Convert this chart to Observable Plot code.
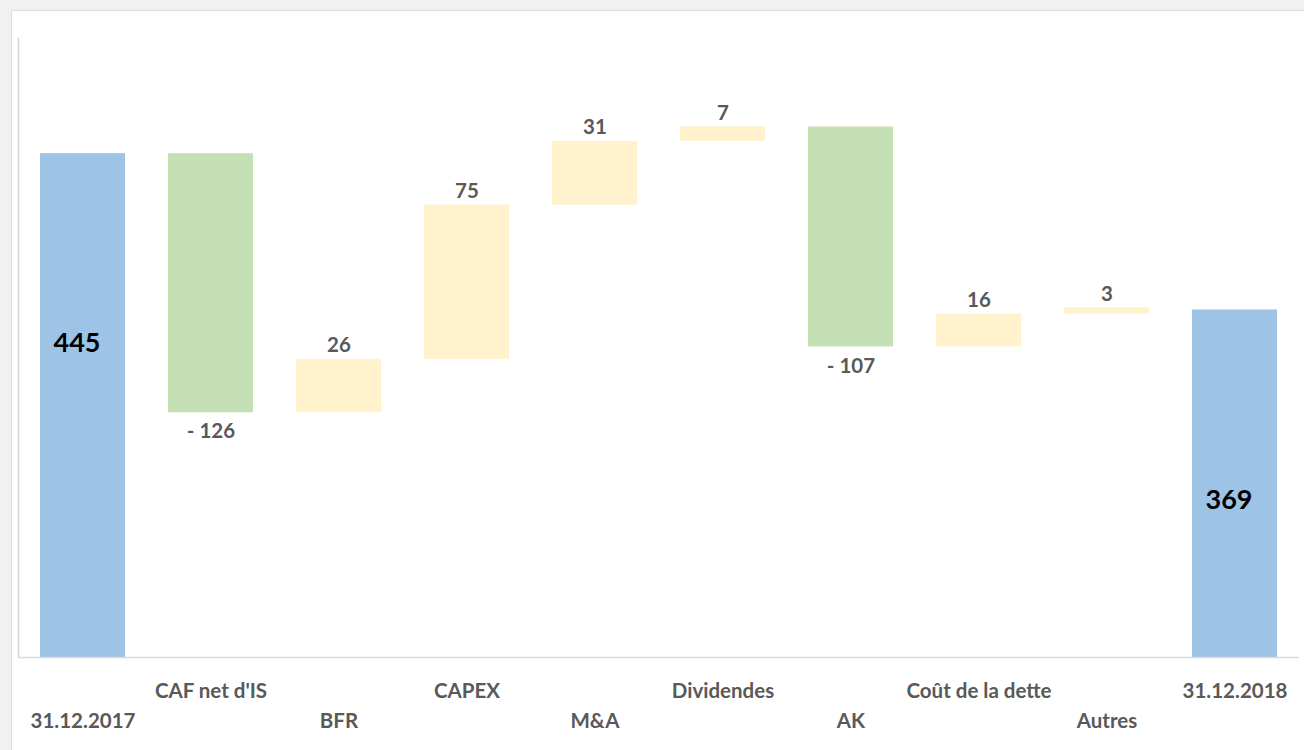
<!DOCTYPE html>
<html>
<head>
<meta charset="utf-8">
<script src="https://cdn.jsdelivr.net/npm/d3@7"></script>
<script src="https://cdn.jsdelivr.net/npm/@observablehq/plot@0.6"></script>
<style>
  html, body { margin: 0; padding: 0; width: 1304px; height: 750px; overflow: hidden; background: #f1f1f1; }
  #sheet { position: absolute; left: 11px; top: 10px; width: 1293px; height: 740px; background: #fff;
           border-left: 1px solid #dedede; border-top: 1px solid #dedede; }
  #chart { position: absolute; left: 0; top: 0; }
</style>
</head>
<body>
<div id="sheet"></div>
<div id="chart"></div>
<script>
// ---- data ----
const categories = ["31.12.2017", "CAF net d'IS", "BFR", "CAPEX", "M&A", "Dividendes", "AK", "Coût de la dette", "Autres", "31.12.2018"];
const values     = [445, -126, 26, 75, 31, 7, -107, 16, 3, 369];
const kinds      = ["total", "delta", "delta", "delta", "delta", "delta", "delta", "delta", "delta", "total"];
const yBase = 200;

// build waterfall table
let running = 0;
const rows = categories.map((c, i) => {
  const v = values[i];
  let lo, hi;
  if (kinds[i] === "total") { lo = yBase; hi = v; running = v; }
  else { const start = running; running = start + v; lo = Math.min(start, running); hi = Math.max(start, running); }
  const type = kinds[i] === "total" ? "total" : (v < 0 ? "neg" : "pos");
  return { cat: c, v, lo, hi, type, i };
});

const colorOf = { total: "#9dc3e6", neg: "#c5e0b4", pos: "#fff2cc" };
const font = "Lato, 'Open Sans', sans-serif";

const chart = Plot.plot({
  width: 1304,
  height: 750,
  marginLeft: 18,
  marginRight: 5,
  marginTop: 38,
  marginBottom: 93,
  style: { background: "transparent", fontFamily: font },
  x: { domain: categories, paddingInner: 0.336, paddingOuter: 0.164, axis: null },
  y: { domain: [yBase, 501], axis: null },
  marks: [
    Plot.barY(rows, { x: "cat", y1: "lo", y2: "hi", fill: d => colorOf[d.type] }),
    Plot.frame({ anchor: "left", stroke: "#d4d4d4", strokeWidth: 1.5 }),
    Plot.ruleY([yBase], { stroke: "#d9d9d9", strokeWidth: 1.5 }),
    // positive labels
    Plot.text(rows.filter(d => d.type === "pos"), {
      x: "cat", y: "hi", text: d => String(d.v), lineAnchor: "bottom", dy: -7,
      fill: "#595959", fontWeight: "bold", fontSize: 20.5, fontFamily: font
    }),
    // negative labels
    Plot.text(rows.filter(d => d.type === "neg"), {
      x: "cat", y: "lo", text: d => "- " + Math.abs(d.v), lineAnchor: "top", dy: 11,
      fill: "#595959", fontWeight: "bold", fontSize: 20.5, fontFamily: font
    }),
    // total labels
    Plot.text(rows.filter(d => d.type === "total"), {
      x: "cat", y: "hi", text: d => String(d.v), lineAnchor: "middle", dy: 190, dx: -6,
      fill: "#000", fontWeight: "bold", fontSize: 27, fontFamily: font
    }),
    // category labels, staggered in two rows
    Plot.text(rows.filter(d => d.i % 2 === 1), {
      x: "cat", frameAnchor: "bottom", text: "cat", lineAnchor: "middle", dy: 34,
      fill: "#595959", fontWeight: "bold", fontSize: 20.5, fontFamily: font
    }),
    Plot.text(rows.filter(d => d.i % 2 === 0), {
      x: "cat", frameAnchor: "bottom", text: "cat", lineAnchor: "middle", dy: 64,
      fill: "#595959", fontWeight: "bold", fontSize: 20.5, fontFamily: font
    })
  ]
});
document.getElementById("chart").appendChild(chart);
</script>
</body>
</html>
